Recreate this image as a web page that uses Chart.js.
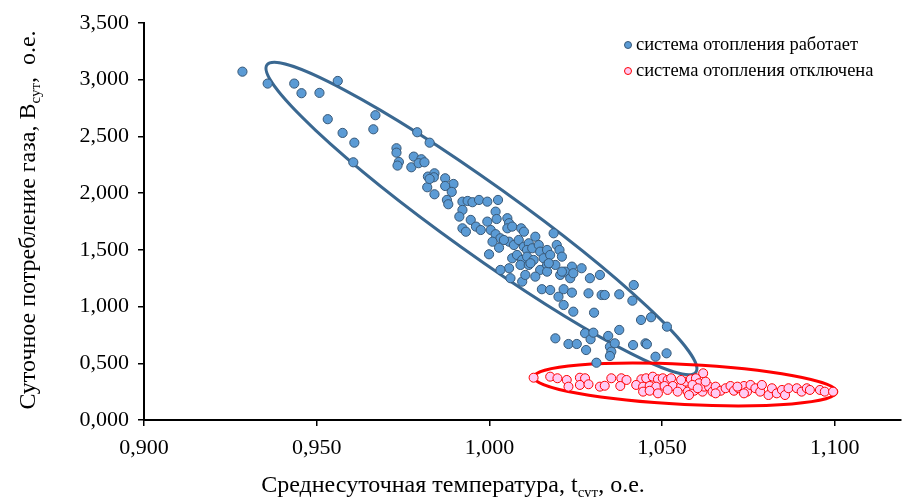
<!DOCTYPE html>
<html lang="ru">
<head>
<meta charset="utf-8">
<title>Суточное потребление газа</title>
<script src="https://cdn.jsdelivr.net/npm/chart.js@4/dist/chart.umd.min.js"></script>
<style>
    html, body { margin: 0; padding: 0; background: #fff; }
    #wrap { width: 906px; height: 497px; }
</style>
</head>
<body>
<div id="wrap"><canvas id="gasChart" width="906" height="497"></canvas></div>
<script>
'use strict';

// ===== данные =====
const seriesLabels = ['система отопления работает', 'система отопления отключена'];

// система отопления работает: среднесуточная температура (о.е.)
const heatOnX = [
    0.9285, 0.9358, 0.9435, 0.9456, 0.9508, 0.9561, 0.9532, 0.9575, 0.9609, 0.9670,
    0.9664, 0.9606, 0.9791, 0.9731, 0.9731, 0.9738, 0.9734, 0.9774, 0.9781, 0.9803,
    0.9795, 0.9812, 0.9822, 0.9820, 0.9827,
    0.9841, 0.9839, 0.9827, 0.9841, 0.9872, 0.9896, 0.9872, 0.9891, 0.9877, 0.9881,
    0.9922, 0.9937, 0.9951, 0.9970, 0.9994, 1.0025, 0.9922, 0.9913, 0.9946, 0.9961,
    0.9922, 0.9932, 0.9975, 0.9994, 1.0018, 1.0021, 1.0004, 1.0018, 1.0052, 1.0057,
    1.0052, 1.0066, 1.0092, 1.0100, 1.0133, 1.0186, 1.0032, 1.0009, 1.0028, 0.9999,
    1.0057, 1.0071, 1.0085, 1.0100, 1.0114, 1.0109, 1.0124, 1.0143, 1.0147, 1.0167,
    1.0195, 1.0203, 1.0066, 1.0080, 1.0095, 1.0109, 1.0128, 1.0157, 1.0176, 1.0210,
    1.0239, 1.0057, 1.0032, 1.0090, 1.0114, 1.0147, 1.0167, 1.0191, 1.0061, 1.0095,
    1.0104, 1.0133, 1.0167, 1.0205, 1.0219, 1.0234, 1.0243,
    1.0267, 1.0291, 1.0320, 1.0200, 1.0215, 1.0243, 1.0287, 1.0325, 1.0334, 1.0376,
    1.0418, 1.0414, 1.0303, 1.0439, 1.0468, 1.0514, 1.0191, 1.0229, 1.0253, 1.0277,
    1.0293, 1.0301, 1.0280, 1.0344, 1.0349, 1.0363, 1.0376, 1.0353, 1.0349, 1.0416,
    1.0452, 1.0456, 1.0481, 1.0513, 1.0310, 1.0152, 1.0176, 1.0215, 1.0239,
    1.0042, 1.0119, 1.0172, 1.0210
];
// система отопления работает: суточное потребление газа (о.е.)
const heatOnY = [
    3.071, 2.966, 2.966, 2.881, 2.884, 2.989, 2.652, 2.531, 2.445, 2.687,
    2.563, 2.272, 2.537, 2.396, 2.357, 2.275, 2.243, 2.228, 2.322, 2.299,
    2.264, 2.272, 2.146, 2.052, 2.445,
    2.175, 2.140, 2.125, 1.990, 2.131, 2.081, 2.063, 2.011, 1.940, 1.902,
    1.925, 1.931, 1.920, 1.940, 1.925, 1.940, 1.852, 1.793, 1.764, 1.705,
    1.690, 1.660, 1.675, 1.749, 1.837, 1.772, 1.675, 1.638, 1.779, 1.735,
    1.690, 1.705, 1.690, 1.660, 1.616, 1.646, 1.602, 1.572, 1.519, 1.461,
    1.572, 1.543, 1.587, 1.528, 1.558, 1.499, 1.514, 1.543, 1.484, 1.499,
    1.543, 1.499, 1.426, 1.455, 1.411, 1.440, 1.411, 1.426, 1.455, 1.440,
    1.352, 1.338, 1.323, 1.367, 1.367, 1.323, 1.367, 1.367, 1.250, 1.220,
    1.279, 1.264, 1.308, 1.279, 1.308, 1.250, 1.294,
    1.338, 1.250, 1.279, 1.087, 1.014, 0.955, 1.117, 1.102, 1.102, 1.108,
    1.190, 1.052, 0.946, 0.882, 0.906, 0.823, 0.720, 0.670, 0.670, 0.765,
    0.712, 0.770, 0.617, 0.741, 0.646, 0.676, 0.794, 0.602, 0.564, 0.661,
    0.676, 0.668, 0.558, 0.588, 0.505, 1.153, 1.146, 1.153, 1.123,
    1.587, 1.382, 1.382, 1.308
];

// система отопления отключена
const heatOffX = [
    1.0128, 1.0176, 1.0197, 1.0224, 1.0229, 1.0262, 1.0277, 1.0262, 1.0287, 1.0320,
    1.0334, 1.0353,
    1.0808, 1.0818, 1.0832, 1.0847, 1.0856, 1.0866, 1.0890, 1.0904, 1.0919, 1.0928,
    1.0957, 1.0971, 1.0995,
    1.0382, 1.0397, 1.0379, 1.0440, 1.0454, 1.0473, 1.0488, 1.0502, 1.0516, 1.0526,
    1.0425, 1.0445, 1.0464, 1.0483, 1.0507, 1.0531, 1.0445, 1.0464, 1.0488, 1.0516,
    1.0555, 1.0569, 1.0583, 1.0598, 1.0619, 1.0607, 1.0574, 1.0593, 1.0578, 1.0617,
    1.0622, 1.0636, 1.0646, 1.0655, 1.0670, 1.0684, 1.0698, 1.0708, 1.0722, 1.0737,
    1.0746, 1.0756, 1.0770, 1.0784, 1.0789, 1.0588, 1.0603, 1.0626, 1.0545, 1.0555,
    1.0655, 1.0737, 1.0718
];
const heatOffY = [
    0.373, 0.382, 0.368, 0.353, 0.294, 0.373, 0.368, 0.309, 0.315, 0.294,
    0.302, 0.368,
    0.220, 0.280, 0.235, 0.265, 0.220, 0.280, 0.280, 0.250, 0.280, 0.265,
    0.265, 0.250, 0.250,
    0.368, 0.353, 0.300, 0.359, 0.368, 0.382, 0.359, 0.368, 0.353, 0.368,
    0.309, 0.294, 0.300, 0.294, 0.300, 0.300, 0.250, 0.258, 0.235, 0.265,
    0.294, 0.338, 0.359, 0.368, 0.412, 0.324, 0.250, 0.258, 0.220, 0.250,
    0.294, 0.294, 0.250, 0.294, 0.258, 0.280, 0.300, 0.258, 0.280, 0.300,
    0.250, 0.309, 0.280, 0.250, 0.309, 0.309, 0.280, 0.338, 0.250, 0.353,
    0.235, 0.235, 0.294
];

// границы осей и шаг делений
const xRange = [0.9, 1.119];
const xStep = 0.05;
const yRange = [0, 3.5];
const yStep = 0.5;

// эллипсы, охватывающие облака точек: концы большой оси в о.е.
const cloudOnTips = [[0.9356, 3.130], [1.0598, 0.423]];
const cloudOffTips = [[1.0129, 0.379], [1.1006, 0.247]];

// ===== оформление =====
const SERIF = '"Liberation Serif", "Times New Roman", serif';
const BLUE_FILL = '#5b9bd5';
const BLUE_EDGE = '#385877';
const BLUE_RING = '#3a6891';
const RED_FILL = '#ffccf4';
const RED_EDGE = '#ff0000';

const fmt = v => Number(v).toFixed(3).replace('.', ',');
const toPoints = (xs, ys) => xs.map((x, i) => ({ x: x, y: ys[i] }));

// текст с нижним индексом: [[строка, индекс?], ...]
function drawParts(ctx, parts, size, cx, baseY) {
    const subSize = Math.round(size * 0.62);
    let total = 0;
    parts.forEach(p => {
        ctx.font = (p[1] ? subSize : size) + 'px ' + SERIF;
        total += ctx.measureText(p[0]).width;
    });
    let x = cx - total / 2;
    ctx.textAlign = 'left';
    ctx.textBaseline = 'alphabetic';
    parts.forEach(p => {
        ctx.font = (p[1] ? subSize : size) + 'px ' + SERIF;
        ctx.fillText(p[0], x, baseY + (p[1] ? size * 0.22 : 0));
        x += ctx.measureText(p[0]).width;
    });
}

const ellipsePlugin = {
    id: 'cloudEllipses',
    beforeDatasetsDraw(chart) {
        const { ctx, scales: { x, y } } = chart;
        const rings = [
            { tips: cloudOnTips, half: 35, color: BLUE_RING },
            { tips: cloudOffTips, half: 20, color: RED_EDGE }
        ];
        ctx.save();
        rings.forEach(r => {
            const x1 = x.getPixelForValue(r.tips[0][0]), y1 = y.getPixelForValue(r.tips[0][1]);
            const x2 = x.getPixelForValue(r.tips[1][0]), y2 = y.getPixelForValue(r.tips[1][1]);
            const rx = Math.hypot(x2 - x1, y2 - y1) / 2;
            ctx.beginPath();
            ctx.ellipse((x1 + x2) / 2, (y1 + y2) / 2, rx, r.half, Math.atan2(y2 - y1, x2 - x1), 0, Math.PI * 2);
            ctx.strokeStyle = r.color;
            ctx.lineWidth = 3;
            ctx.stroke();
        });
        ctx.restore();
    }
};

const labelsPlugin = {
    id: 'titlesAndLegend',
    afterDraw(chart) {
        const ctx = chart.ctx;
        ctx.save();
        ctx.fillStyle = '#000';

        // подпись оси X
        drawParts(ctx, [['Среднесуточная температура, t', false], ['сут', true], [', о.е.', false]], 24, 453, 492);

        // подпись оси Y (повёрнутая)
        ctx.save();
        ctx.translate(35, 220);
        ctx.rotate(-Math.PI / 2);
        drawParts(ctx, [['Суточное потребление газа, В', false], ['сут', true], [',  о.е.', false]], 24, 0, 0);
        ctx.restore();

        // легенда
        chart.data.datasets.forEach((ds, i) => {
            const my = 45 + i * 26;
            ctx.beginPath();
            ctx.arc(628, my, 3.5, 0, Math.PI * 2);
            ctx.fillStyle = ds.pointBackgroundColor;
            ctx.fill();
            ctx.lineWidth = 1;
            ctx.strokeStyle = ds.pointBorderColor;
            ctx.stroke();
            ctx.fillStyle = '#000';
            ctx.font = '18.5px ' + SERIF;
            ctx.textAlign = 'left';
            ctx.textBaseline = 'middle';
            ctx.fillText(ds.label, 636, my);
        });
        ctx.restore();
    }
};

const axisCommon = {
    type: 'linear',
    grid: { drawOnChartArea: false, drawTicks: true, tickLength: 6, color: '#000', lineWidth: 1.5 },
    border: { display: true, color: '#000', width: 2 }
};

new Chart(document.getElementById('gasChart').getContext('2d'), {
    type: 'scatter',
    data: {
        datasets: [
            {
                label: seriesLabels[0],
                data: toPoints(heatOnX, heatOnY),
                pointRadius: 4.6,
                pointBackgroundColor: BLUE_FILL,
                pointBorderColor: BLUE_EDGE,
                pointBorderWidth: 1
            },
            {
                label: seriesLabels[1],
                data: toPoints(heatOffX, heatOffY),
                pointRadius: 4.5,
                pointBackgroundColor: RED_FILL,
                pointBorderColor: RED_EDGE,
                pointBorderWidth: 1
            }
        ]
    },
    options: {
        responsive: false,
        animation: false,
        layout: { padding: { top: 23, right: 0, bottom: 0, left: 0 } },
        plugins: { legend: { display: false }, tooltip: { enabled: false } },
        scales: {
            x: Object.assign({}, axisCommon, {
                min: xRange[0], max: xRange[1],
                ticks: {
                    stepSize: xStep, includeBounds: false, maxRotation: 0, padding: 9,
                    color: '#000', font: { family: SERIF, size: 22 },
                    callback: v => fmt(v)
                },
                afterFit(s) { s.height = 77; }
            }),
            y: Object.assign({}, axisCommon, {
                min: yRange[0], max: yRange[1],
                ticks: {
                    stepSize: yStep, padding: 9,
                    color: '#000', font: { family: SERIF, size: 22 },
                    callback: v => fmt(v)
                },
                afterFit(s) { s.width = 144; }
            })
        }
    },
    plugins: [ellipsePlugin, labelsPlugin]
});
</script>
</body>
</html>
